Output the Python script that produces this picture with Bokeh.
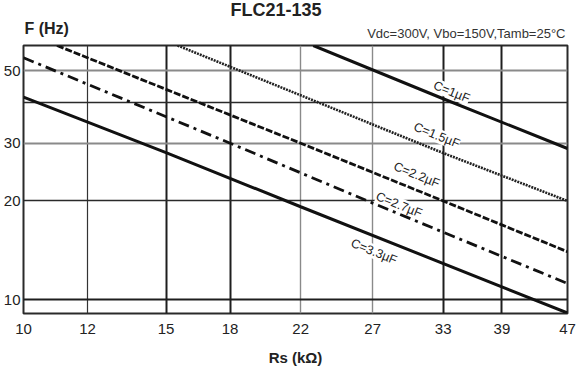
from bokeh.plotting import figure
from bokeh.models import (Range1d, FixedTicker, Grid, LabelSet,
                          ColumnDataSource, NumeralTickFormatter)
from bokeh.core.properties import value
from bokeh.layouts import column
from bokeh.embed import file_html
from bokeh.resources import INLINE

# ---- data ----
x_ticks = [10, 12, 15, 18, 22, 27, 33, 39, 47]
y_ticks = [10, 20, 30, 50]

rs_c10 = [22.8, 33, 47]
f_c10 = [59.6, 41.0, 28.9]
rs_c15 = [15.5, 22, 33, 47]
f_c15 = [59.6, 42.0, 28.0, 20.0]
rs_c22 = [11.0, 15, 22, 33, 47]
f_c22 = [59.6, 43.8, 30.0, 20.0, 14.0]
rs_c27 = [10, 18, 27, 47]
f_c27 = [54.7, 30.0, 19.7, 11.2]
rs_c33 = [10, 15, 22, 47]
f_c33 = [41.5, 28.1, 19.2, 9.1]

curve_labels = ["C=1\u00b5F", "C=1.5\u00b5F", "C=2.2\u00b5F", "C=2.7\u00b5F", "C=3.3\u00b5F"]
label_rs = [33.8, 32.4, 30.6, 29.1, 27.1]
label_f = [43.0, 31.7, 24.0, 19.45, 14.0]

title_text = "FLC21-135"
y_title_text = "F (Hz)"
cond_text = "Vdc=300V, Vbo=150V,Tamb=25\u00b0C"
x_title_text = "Rs (k\u03a9)"

FONT = "Liberation Sans"
HEADER_H = 44
FRAME_L, FRAME_R = 22, 567

# ---- header strip with the titles (x in page pixels, frame aligned with chart) ----
h = figure(width=587, height=HEADER_H, x_range=Range1d(FRAME_L, FRAME_R),
           y_range=Range1d(0, HEADER_H),
           output_backend="svg", toolbar_location=None,
           min_border_left=FRAME_L, min_border_right=587 - FRAME_R,
           min_border_top=0, min_border_bottom=0)
h.axis.visible = False
h.grid.visible = False
h.outline_line_color = None
h.background_fill_color = "white"
h.border_fill_color = "white"
h.text(x=[275], y=[HEADER_H - 9], text=[title_text], text_align="center",
       text_baseline="middle", text_font=value(FONT), text_font_style="bold",
       text_font_size="18px", text_color="#222222")
h.text(x=[23], y=[HEADER_H - 27.5], text=[y_title_text], text_align="left",
       text_baseline="middle", text_font=value(FONT), text_font_style="bold",
       text_font_size="16px", text_color="#222222")
h.text(x=[565], y=[HEADER_H - 33], text=[cond_text], text_align="right",
       text_baseline="middle", text_font=value(FONT),
       text_font_size="13px", text_color="#333333")

# ---- main chart ----
p = figure(width=587, height=368 - HEADER_H, x_axis_type="log", y_axis_type="log",
           x_range=Range1d(10, 47), y_range=Range1d(9.07, 59.6),
           output_backend="svg", toolbar_location=None,
           min_border_left=FRAME_L, min_border_right=587 - FRAME_R,
           min_border_top=1, min_border_bottom=54)
p.background_fill_color = "white"
p.border_fill_color = "white"
p.outline_line_color = "#2a2a2a"
p.outline_line_width = 2

ax = p.xaxis[0]
ax.ticker = FixedTicker(ticks=x_ticks)
ax.formatter = NumeralTickFormatter(format="0")
ax.major_tick_line_color = None
ax.minor_tick_line_color = None
ax.major_tick_out = 0
ax.major_tick_in = 0
ax.minor_tick_out = 0
ax.axis_line_color = None
ax.major_label_standoff = 10
ax.major_label_text_font = FONT
ax.major_label_text_font_size = "15px"
ax.major_label_text_color = "#222222"
ax.axis_label = x_title_text
ax.axis_label_text_font = FONT
ax.axis_label_text_font_style = "bold"
ax.axis_label_text_font_size = "15px"
ax.axis_label_text_color = "#222222"
ax.axis_label_standoff = 12

ay = p.yaxis[0]
ay.ticker = FixedTicker(ticks=y_ticks)
ay.formatter = NumeralTickFormatter(format="0")
ay.major_tick_line_color = None
ay.minor_tick_line_color = None
ay.major_tick_out = 0
ay.major_tick_in = 0
ay.minor_tick_out = 0
ay.axis_line_color = None
ay.major_label_standoff = 3
ay.major_label_text_font = FONT
ay.major_label_text_font_size = "15px"
ay.major_label_text_color = "#222222"

# grids
p.xgrid.visible = False
p.ygrid.visible = False
p.add_layout(Grid(dimension=0, ticker=FixedTicker(ticks=[15, 18, 33, 39]),
                  grid_line_color="#1e1e1e", grid_line_width=2))
p.add_layout(Grid(dimension=0, ticker=FixedTicker(ticks=[12]),
                  grid_line_color="#333333", grid_line_width=1.2))
p.add_layout(Grid(dimension=0, ticker=FixedTicker(ticks=[22, 27]),
                  grid_line_color="#8a8a8a", grid_line_width=1.4))
p.add_layout(Grid(dimension=1, ticker=FixedTicker(ticks=[10]),
                  grid_line_color="#1e1e1e", grid_line_width=2.2))
p.add_layout(Grid(dimension=1, ticker=FixedTicker(ticks=[20, 40]),
                  grid_line_color="#2a2a2a", grid_line_width=1.6))
p.add_layout(Grid(dimension=1, ticker=FixedTicker(ticks=[30, 50]),
                  grid_line_color="#8a8a8a", grid_line_width=1.8))

# curve labels (white boxes break the grid lines)
lab_src = ColumnDataSource(dict(x=label_rs, y=label_f, text=curve_labels))
p.add_layout(LabelSet(x="x", y="y", text="text", source=lab_src, angle=-0.386,
                      text_align="center", text_baseline="middle",
                      text_font=value(FONT), text_font_size="12.5px", text_color="#222222",
                      background_fill_color="white", level="underlay"))

# curves
p.line(rs_c10, f_c10, line_color="#111111", line_width=3)
p.line(rs_c15, f_c15, line_color="#222222", line_width=2.6, line_dash="2 1")
p.line(rs_c22, f_c22, line_color="#111111", line_width=2.8, line_dash="7 2")
p.line(rs_c27, f_c27, line_color="#111111", line_width=2.8, line_dash="11 5 3 5")
p.line(rs_c33, f_c33, line_color="#111111", line_width=3)

layout = column(h, p, spacing=0)
open("out.html", "w").write(file_html(layout, INLINE))
